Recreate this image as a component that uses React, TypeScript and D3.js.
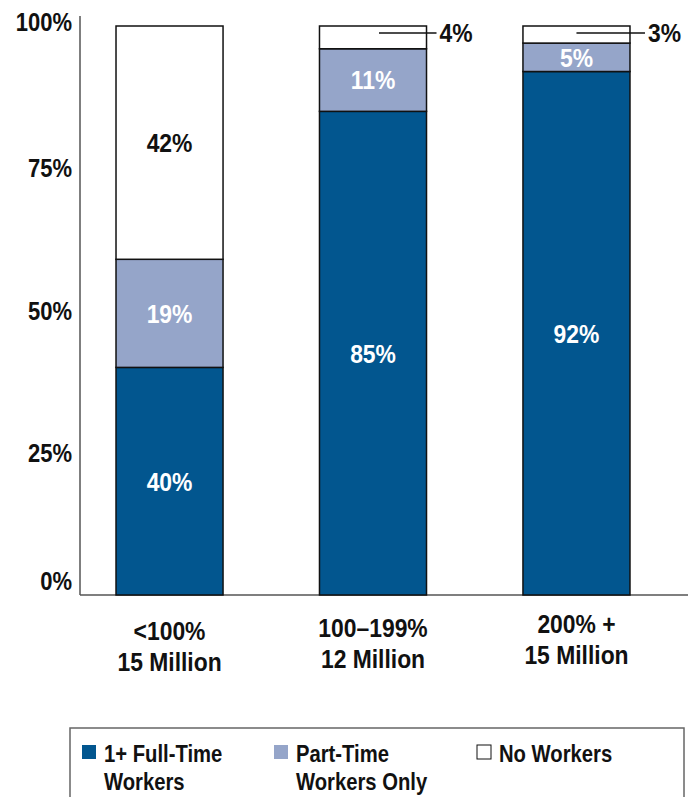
import React from "react";
import * as d3 from "d3";

// Categorías y series (porcentaje de familias)
const categories = ["<100%", "100–199%", "200% +"];
const subLabels = ["15 Million", "12 Million", "15 Million"];
const fullTime = [40, 85, 92];
const partTime = [19, 11, 5];
const noWorkers = [42, 4, 3];
const yTicks = [0, 25, 50, 75, 100];

const seriesKeys = ["full", "part", "none"] as const;
const seriesNames = ["1+ Full-Time|Workers", "Part-Time|Workers Only", "No Workers"];
const colors: Record<string, string> = { full: "#02568f", part: "#95a5c9", none: "#ffffff" };

const W = 688;
const H = 797;
const FONT = "'Liberation Sans', Arial, sans-serif";

// Texto "condensado": escala horizontal sobre Liberation Sans bold
function CText({ x, y, size = 26, anchor = "start", fill = "#111", dy, children }: any) {
  return (
    <text
      transform={`translate(${x},${y}) scale(0.88,1)`}
      dy={dy}
      textAnchor={anchor}
      fontSize={size}
      fill={fill}
    >
      {children}
    </text>
  );
}

export default function App() {
  const rows = categories.map((c, i) => ({ cat: c, full: fullTime[i], part: partTime[i], none: noWorkers[i] }));
  const stacked = d3.stack<any>().keys(seriesKeys as any)(rows);

  const x = d3.scaleBand<string>().domain(categories).range([80, 666]).paddingInner(0.474).paddingOuter(0.177);
  const y = d3.scaleLinear().domain([0, 100]).range([595, 26]).clamp(true);
  const bw = x.bandwidth();
  const leaderStart = [0, 6, 0];
  const leaderEnd = [0, 10, 15];

  return (
    <svg width={W} height={H} style={{ position: "absolute", left: 0, top: 0, fontFamily: FONT, fontWeight: 700 }}>
      <rect width={W} height={H} fill="#fff" />
      {/* ejes */}
      <line x1={80} x2={80} y1={16} y2={y(0)} stroke="#555" strokeWidth={1.5} />
      <line x1={80} x2={W} y1={y(0)} y2={y(0)} stroke="#555" strokeWidth={1.5} />
      {yTicks.map(t => (
        <CText key={t} x={72} y={y(t) - (t === 0 ? 14 : t === 100 ? 4 : 0)} dy="0.36em" anchor="end" size={25}>
          {t}%
        </CText>
      ))}

      {/* barras */}
      {stacked.map(s => (
        <g key={s.key}>
          {s.map((d, j) => (
            <rect
              key={j}
              x={x(categories[j])!}
              y={y(d[1])}
              width={bw}
              height={y(d[0]) - y(d[1])}
              fill={colors[s.key]}
              stroke="#111"
              strokeWidth={1.5}
            />
          ))}
        </g>
      ))}

      {/* etiquetas de valores */}
      {stacked.map(s =>
        s.map((d, j) => {
          const v = (rows[j] as any)[s.key] as number;
          const cx = x(categories[j])! + bw / 2;
          const cy = (y(d[0]) + y(d[1])) / 2;
          if (s.key === "none" && v < 10) {
            const ly = y(d[1]) + 7;
            const xe = x(categories[j])! + bw + leaderEnd[j];
            return (
              <g key={s.key + j}>
                <line x1={cx + leaderStart[j]} x2={xe} y1={ly} y2={ly} stroke="#111" strokeWidth={1.5} />
                <CText x={xe + 3} y={ly} dy="0.36em">
                  {v}%
                </CText>
              </g>
            );
          }
          return (
            <CText key={s.key + j} x={cx} y={cy} dy="0.36em" anchor="middle" fill={s.key === "none" ? "#111" : "#fff"}>
              {v}%
            </CText>
          );
        })
      )}

      {/* categorías */}
      {categories.map((c, i) => {
        const cx = x(c)! + bw / 2;
        const off = [0, -3, -7][i];
        return (
          <g key={c}>
            <CText x={cx} y={640 + off} anchor="middle">{c}</CText>
            <CText x={cx} y={671 + off} anchor="middle">{subLabels[i]}</CText>
          </g>
        );
      })}

      {/* leyenda */}
      <rect x={70} y={728} width={614} height={H} fill="#fff" stroke="#666" strokeWidth={1.5} />
      {seriesKeys.map((k, i) => {
        const lx = [82, 274, 477][i];
        const lines = seriesNames[i].split("|");
        return (
          <g key={k}>
            <rect x={lx} y={745} width={14} height={14} fill={colors[k]} stroke={k === "none" ? "#111" : "none"} strokeWidth={1} />
            {lines.map((t, li) => (
              <CText key={li} x={lx + 22} y={762 + li * 28} size={23}>{t}</CText>
            ))}
          </g>
        );
      })}
    </svg>
  );
}
